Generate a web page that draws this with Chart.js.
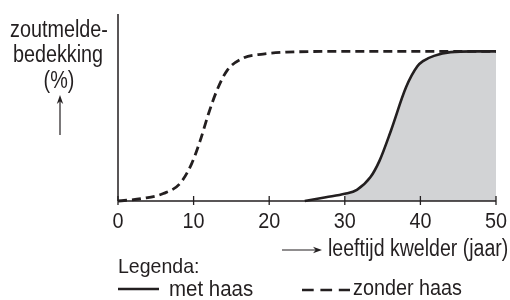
<!DOCTYPE html>
<html>
<head>
<meta charset="utf-8">
<script src="https://cdn.jsdelivr.net/npm/chart.js@4/dist/chart.umd.min.js"></script>
<style>
  html, body { margin: 0; padding: 0; background: #fff; }
  #wrap { width: 510px; height: 300px; }
</style>
</head>
<body>
<div id="wrap"><canvas id="chart" width="510" height="300"></canvas></div>
<script>
// leeftijd kwelder (jaar) en zoutmeldebedekking (%)
const ageMet = [24.7, 27.5, 30, 31.6, 33.4, 34.6, 36.1, 38.1, 39.6, 40.4, 41.8, 44, 47, 50]
const coverMet = [0, 2.5, 4.8, 7.5, 16, 27, 47, 76, 90, 93.7, 97, 99.5, 100, 100]

const ageZonder = [0, 3.4, 6, 8.2, 9.75, 10.85, 11.95, 13.05, 14.4, 16.6, 19.2, 22.3, 30, 40, 50]
const coverZonder = [0, 1.8, 5, 11.7, 25, 40, 58, 73.5, 87, 95.6, 98.2, 99.5, 100, 100, 100]

const xTicks = [0, 10, 20, 30, 40, 50]
const shadeFrom = 30

const ink = "#231f20"
const shade = "#d2d3d5"
const fontName = "'Liberation Sans', Arial, sans-serif"

const toPoints = (xs, ys) => xs.map((x, i) => ({ x, y: ys[i] }))
const metPoints = toPoints(ageMet, coverMet)
const zonderPoints = toPoints(ageZonder, coverZonder)
const shadePoints = metPoints.filter(p => p.x >= shadeFrom)

// condensed looking text: scale the glyphs horizontally
function text(ctx, str, x, y, align, size, sx) {
  ctx.save()
  ctx.font = `${size}px ${fontName}`
  ctx.fillStyle = ink
  ctx.textBaseline = "alphabetic"
  ctx.textAlign = "left"
  const w = ctx.measureText(str).width * sx
  let left = x
  if (align === "center") left = x - w / 2
  if (align === "right") left = x - w
  ctx.translate(left, y)
  ctx.scale(sx, 1)
  ctx.fillText(str, 0, 0)
  ctx.restore()
}

function arrow(ctx, x1, y1, x2, y2) {
  const ang = Math.atan2(y2 - y1, x2 - x1)
  const len = 9, half = 3.2
  ctx.save()
  ctx.strokeStyle = ink
  ctx.fillStyle = ink
  ctx.lineWidth = 1.2
  ctx.beginPath()
  ctx.moveTo(x1, y1)
  ctx.lineTo(x2 - Math.cos(ang) * len * 0.6, y2 - Math.sin(ang) * len * 0.6)
  ctx.stroke()
  ctx.translate(x2, y2)
  ctx.rotate(ang)
  ctx.beginPath()
  ctx.moveTo(0, 0)
  ctx.lineTo(-len, -half)
  ctx.lineTo(-len * 0.7, 0)
  ctx.lineTo(-len, half)
  ctx.closePath()
  ctx.fill()
  ctx.restore()
}

const axesPlugin = {
  id: "axes",
  afterDatasetsDraw(chart) {
    const { ctx, chartArea, scales } = chart
    const xs = scales.x
    const x0 = xs.getPixelForValue(0)
    const x50 = xs.getPixelForValue(50)
    const yb = scales.y.getPixelForValue(0)

    ctx.save()
    ctx.strokeStyle = ink
    ctx.lineWidth = 1.5
    ctx.beginPath()
    ctx.moveTo(x0, chartArea.top)
    ctx.lineTo(x0, yb)
    ctx.moveTo(x0, yb)
    ctx.lineTo(x50, yb)
    ctx.stroke()

    ctx.lineWidth = 1.3
    xTicks.forEach(v => {
      const px = xs.getPixelForValue(v)
      ctx.beginPath()
      ctx.moveTo(px, yb - 5)
      ctx.lineTo(px, yb + 4)
      ctx.stroke()
      text(ctx, String(v), px, yb + 27, "center", 22, 0.9)
    })
    ctx.restore()

    // y-as titel
    text(ctx, "zoutmelde-", 59, 37, "center", 23, 0.86)
    text(ctx, "bedekking", 58, 62, "center", 23, 0.86)
    text(ctx, "(%)", 59, 88, "center", 23, 0.86)
    arrow(ctx, 60, 135, 60, 95)

    // x-as titel
    arrow(ctx, 282, 250, 322, 250)
    text(ctx, "leeftijd kwelder (jaar)", 328, 256, "left", 23, 0.85)

    // legenda
    text(ctx, "Legenda:", 118, 273, "left", 21, 0.93)
    ctx.save()
    ctx.strokeStyle = ink
    ctx.lineWidth = 2.6
    ctx.beginPath()
    ctx.moveTo(118, 289)
    ctx.lineTo(159, 289)
    ctx.stroke()
    ctx.setLineDash([11.7, 6.7])
    ctx.beginPath()
    ctx.moveTo(302, 290)
    ctx.lineTo(350, 290)
    ctx.stroke()
    ctx.restore()
    text(ctx, "met haas", 169, 296, "left", 22, 0.93)
    text(ctx, "zonder haas", 353, 295, "left", 22, 0.9)
  },
}

new Chart(document.getElementById("chart"), {
  type: "line",
  data: {
    datasets: [
      {
        label: "met haas",
        data: metPoints,
        borderColor: ink,
        borderWidth: 2.6,
        pointRadius: 0,
        cubicInterpolationMode: "monotone",
        fill: false,
        clip: 6,
      },
      {
        label: "zonder haas",
        data: zonderPoints,
        borderColor: ink,
        borderWidth: 2.8,
        borderDash: [9, 5],
        pointRadius: 0,
        cubicInterpolationMode: "monotone",
        fill: false,
        clip: 6,
      },
      {
        label: "bedekking",
        data: shadePoints,
        borderWidth: 0,
        borderColor: "rgba(0,0,0,0)",
        backgroundColor: shade,
        pointRadius: 0,
        cubicInterpolationMode: "monotone",
        fill: "origin",
      },
    ],
  },
  options: {
    responsive: false,
    animation: false,
    events: [],
    layout: { padding: { left: 118, right: 14, top: 14, bottom: 99 } },
    scales: {
      x: { type: "linear", min: 0, max: 50, display: false },
      y: { type: "linear", min: 0, max: 125, display: false },
    },
    plugins: {
      legend: { display: false },
      tooltip: { enabled: false },
    },
  },
  plugins: [axesPlugin],
})
</script>
</body>
</html>
